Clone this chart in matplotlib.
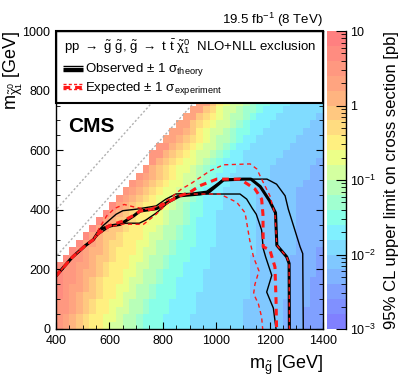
import numpy as np
import matplotlib
matplotlib.use('Agg')
import matplotlib.pyplot as plt
from matplotlib.colors import ListedColormap, LogNorm
from matplotlib.patches import Rectangle
from matplotlib.ticker import MultipleLocator, LogLocator, NullFormatter, FixedLocator, FixedFormatter

plt.rcParams['font.family'] = ['Liberation Sans', 'DejaVu Sans']
plt.rcParams['mathtext.fontset'] = 'custom'
plt.rcParams['mathtext.rm'] = 'Liberation Sans'
plt.rcParams['mathtext.it'] = 'Liberation Sans'
plt.rcParams['mathtext.bf'] = 'Liberation Sans:bold'
plt.rcParams['mathtext.sf'] = 'Liberation Sans'

# grid of 25 GeV cells
mgl_edges = np.arange(400, 1401, 25)
mlsp_edges = np.arange(0, 1001, 25)

# colour band (base 20, 0.2 decade per band from 1e-3 pb) read per cell,
# one string per m_LSP row starting at 0, each row ends at m_gluino = 1375
limit_rows = [
    "hgfedccbaa998777666655555555444444333222",
    "hgfedccbba998777666655555555444444333222",
    "hhgfedccbaa99877766665555555444444333222",
    "hhgfedccbba99877766665555555444444333322",
    "ihgfeedccbaa9987776665555555544444433322",
    "ihggfedccbba9987776666555555544444433322",
    "ihhgfedcccbaa998776666555555544444433322",
    "ihhgffedccbba998777666555555544444433332",
    "ihhggfedcccbaa99877666655555544444433332",
    "ihhgfeedccbba99877766655555544444433332",
    "ihgffedcccbaa9987766655555554444443332",
    "iggfeddccbba9987776665555554444443333",
    "igfeedcccbaa998776665555554444443333",
    "igfeedccbba998776665555554444443333",
    "igfeedccbba99876665555554444443333",
    "igfedccbba99877665555554444443333",
    "igfedccbba9877666555554444443333",
    "hgfedcbba9987666555554444443333",
    "hgfedcbba987666555554444443333",
    "hgfedcbba98766655555444444333",
    "hgfedcbaa9876655555544444433",
    "hfedcbba9877665555544444433",
    "hfedcbba987666555554444443",
    "hhfedcbaa98766555555444444",
    "hhfedcbaa9876655555544444",
    "ggfedcba9987665555554444",
    "ggfecbaa987766555555444",
    "ggedcbaa98766655555544",
    "ggedcba99876665555554",
    "ggedbaa9887666555555",
    "ggecbaa987766655555",
    "ggecba998776665555",
    "ggecba99877666555",
    "ggecba9987766655",
    "ggcbaa988776655",
    "ggcbaa98876665",
    "ggcbaa9887666",
    "ggcba9988766",
    "ggcba998776",
    "ggbba99877",
]

band_colors = ['#8080ff', '#8090ff', '#80a0ff', '#80b4ff', '#80c8ff',
               '#80dcff', '#80f0ff', '#88ffe8', '#a0ffd0', '#b8ffb8',
               '#d4ffa0', '#ecff88', '#fff080', '#ffdc80', '#ffc880',
               '#ffb480', '#ffa480', '#ff9880', '#ff8c80', '#ff8080']

# contours (m_gluino, m_LSP)
diag_x = [400, 460, 510, 540]
diag_y = [178, 240, 280, 300]

obs_x = diag_x + [565, 602, 640, 690, 715, 777, 815, 864, 939, 970, 1000, 1027, 1100, 1130, 1165, 1200, 1222, 1227, 1264, 1273, 1274]
obs_y = diag_y + [334, 346, 351, 379, 396, 404, 424, 447, 453, 458, 480, 500, 503, 503, 478, 430, 390, 281, 242, 220, 0]

obs_up_x = diag_x + [560, 575, 625, 650, 700, 775, 812, 849, 900, 964, 1000, 1027, 1190, 1226, 1258, 1270, 1276, 1314, 1324, 1326]
obs_up_y = diag_y + [330, 346, 385, 397, 402, 413, 436, 453, 455, 462, 485, 503, 503, 486, 447, 402, 385, 276, 253, 0]

obs_dn_x = diag_x + [560, 600, 650, 712, 737, 775, 815, 850, 900, 1089, 1114, 1135, 1150, 1170, 1176, 1185, 1208, 1189, 1214, 1224]
obs_dn_y = diag_y + [318, 343, 355, 355, 366, 389, 420, 445, 453, 453, 436, 405, 385, 332, 270, 242, 180, 124, 70, 0]

exp_x = diag_x + [565, 600, 650, 690, 715, 775, 815, 864, 900, 939, 1002, 1089, 1145, 1170, 1175, 1176, 1201, 1220, 1224, 1226]
exp_y = diag_y + [328, 347, 362, 381, 396, 404, 424, 447, 458, 481, 503, 503, 470, 436, 385, 276, 265, 208, 96, 0]

exp_up_x = diag_x + [560, 590, 620, 655, 690, 737, 780, 830, 870, 902, 977, 1027, 1127, 1152, 1170, 1201, 1220, 1227, 1264, 1273, 1274]
exp_up_y = diag_y + [335, 380, 405, 418, 410, 402, 412, 440, 470, 486, 531, 551, 554, 537, 503, 447, 385, 281, 242, 220, 0]

exp_dn_x = diag_x + [560, 600, 650, 727, 775, 815, 850, 900, 1014, 1077, 1108, 1125, 1140, 1160, 1145, 1140, 1158, 1170, 1174]
exp_dn_y = diag_y + [318, 343, 352, 351, 385, 420, 445, 453, 453, 425, 390, 300, 240, 195, 150, 118, 84, 40, 0]

# fill the limit grid
limits = np.full((len(mlsp_edges) - 1, len(mgl_edges) - 1), np.nan)
for j, row in enumerate(limit_rows):
    start = limits.shape[1] - len(row)
    limits[j, start:] = [10 ** (-2.9 + 0.2 * int(c, 20)) for c in row]
limits = np.ma.masked_invalid(limits)

fig = plt.figure(figsize=(3.99, 3.83), dpi=100)
ax = fig.add_axes([0.1404, 0.141, 0.6692, 0.778])
cax = fig.add_axes([0.8195, 0.141, 0.0476, 0.778])

cmap = ListedColormap(band_colors)
norm = LogNorm(1e-3, 10)
mesh = ax.pcolormesh(mgl_edges, mlsp_edges, limits, cmap=cmap, norm=norm, zorder=1)

# kinematic guide lines
xx = np.array([300, 1500])
ax.plot(xx, xx, color='#b0b0b0', lw=1, ls=(0, (1.5, 1.5)), zorder=2)
ax.plot(xx, xx - 157, color='#b0b0b0', lw=1, ls=(0, (1.5, 1.5)), zorder=2)

# contours
ax.plot(obs_up_x, obs_up_y, color='k', lw=1.0, zorder=3)
ax.plot(obs_dn_x, obs_dn_y, color='k', lw=1.0, zorder=3)
ax.plot(obs_x, obs_y, color='k', lw=2.2, zorder=3)
ax.plot(exp_up_x, exp_up_y, color='#ff1a1a', lw=1.0, ls=(0, (3, 2.5)), zorder=4)
ax.plot(exp_dn_x, exp_dn_y, color='#ff1a1a', lw=1.0, ls=(0, (3, 2.5)), zorder=4)
ax.plot(exp_x, exp_y, color='#ff1a1a', lw=2.2, ls=(0, (2.2, 1.6)), zorder=4)

ax.set_xlim(400, 1400)
ax.set_ylim(0, 1000)
ax.xaxis.set_major_locator(MultipleLocator(200))
ax.xaxis.set_minor_locator(MultipleLocator(50))
ax.yaxis.set_major_locator(MultipleLocator(200))
ax.yaxis.set_minor_locator(MultipleLocator(50))
ax.tick_params(which='both', direction='in', top=True, right=True, labelsize=9)
ax.tick_params(axis='x', pad=4)
ax.tick_params(axis='y', pad=4)
ax.tick_params(which='major', length=5)
ax.tick_params(which='minor', length=3)
for s in ax.spines.values():
    s.set_linewidth(1.0)
    s.set_zorder(8)

ax.set_xlabel(r'm$_{\tilde{g}}$ [GeV]', loc='right', fontsize=13, labelpad=5)
ax.set_ylabel(r'm$_{\tilde{\chi}^{0}_{1}}$ [GeV]', loc='top', fontsize=13)
ax.yaxis.set_label_coords(-0.118, 1.0)
ax.set_title(r'19.5 fb$^{-1}$ (8 TeV)', loc='right', fontsize=9.5, pad=5)

# legend box
ax.add_patch(Rectangle((400, 757), 1000, 243, facecolor='white', edgecolor='k',
                       lw=1.5, zorder=6, clip_on=False))
ax.text(430, 949, r'pp $\rightarrow$ $\tilde{g}$ $\tilde{g}$, $\tilde{g}$ $\rightarrow$ t $\bar{t}$ $\tilde{\chi}^{0}_{1}$  NLO+NLL exclusion',
        fontsize=9.5, va='center', ha='left', zorder=7)
hx = [428, 502]
for dy, lw in [(8, 1.0), (0, 2.2), (-8, 1.0)]:
    ax.plot(hx, [874 + dy] * 2, color='k', lw=lw, zorder=7, solid_capstyle='butt')
    ax.plot(hx, [813 + dy] * 2, color='#ff1a1a', lw=lw,
            ls=(0, (2.2, 1.6)), zorder=7)
ax.text(508, 872, r'Observed $\pm$ 1 $\sigma_{\mathrm{theory}}$', fontsize=9.5,
        va='center', ha='left', zorder=7)
ax.text(508, 808, r'Expected $\pm$ 1 $\sigma_{\mathrm{experiment}}$', fontsize=9.5,
        va='center', ha='left', zorder=7)

ax.text(445, 662, 'CMS', fontsize=15, fontweight='bold', va='baseline', ha='left', zorder=7)

# colour scale
cb = fig.colorbar(mesh, cax=cax)
cb.outline.set_visible(False)
cax.plot([1, 1], [1e-3, 10], color='k', lw=1, transform=cax.get_yaxis_transform(), clip_on=False)
cax.yaxis.set_major_locator(FixedLocator([1e-3, 1e-2, 1e-1, 1, 10]))
cax.yaxis.set_major_formatter(FixedFormatter([r'10$^{-3}$', r'10$^{-2}$', r'10$^{-1}$', '1', '10']))
cax.yaxis.set_minor_locator(LogLocator(base=10, subs=np.arange(2, 10)))
cax.yaxis.set_minor_formatter(NullFormatter())
cax.tick_params(which='both', direction='in', right=True, left=False, labelsize=9, pad=3)
cax.tick_params(which='major', length=7)
cax.tick_params(which='minor', length=3.5)
cb.set_label('95% CL upper limit on cross section [pb]', fontsize=12, labelpad=6)

fig.savefig('out.png', dpi=100)
